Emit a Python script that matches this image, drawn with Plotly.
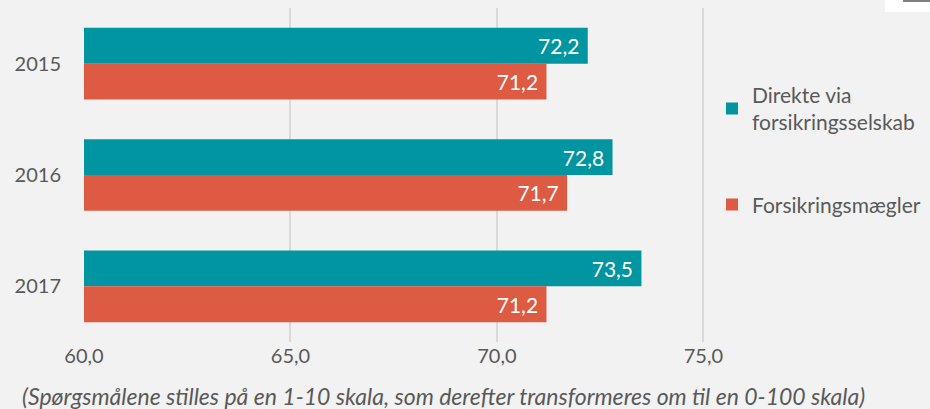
import plotly.graph_objects as go

years = ["2015", "2016", "2017"]
direkte = [72.2, 72.8, 73.5]
maegler = [71.2, 71.7, 71.2]
series_names = ["Direkte via<br>forsikringsselskab", "Forsikringsmægler"]
tick_vals = [60, 65, 70, 75]
tick_text = ["60,0", "65,0", "70,0", "75,0"]
caption = "(Spørgsmålene stilles på en 1-10 skala, som derefter transformeres om til en 0-100 skala)"

def fmt(v):
    return f"{v:.1f}".replace(".", ",") + "\u00a0"

TEAL = "#0095A0"
RED = "#DD5A43"
FONT = "Lato, 'Open Sans', sans-serif"

fig = go.Figure()
for name, vals, col, grp in [(series_names[0], direkte, TEAL, "a"), (series_names[1], maegler, RED, "b")]:
    fig.add_trace(go.Bar(
        y=years, x=vals, orientation="h", name=name,
        marker=dict(color=col, line=dict(width=0)),
        text=[fmt(v) for v in vals], textposition="inside", insidetextanchor="end",
        textfont=dict(color="white", size=21, family=FONT),
        legendgroup=grp,
    ))

fig.update_layout(
    width=930, height=409,
    margin=dict(l=84, r=206, t=8, b=67, autoexpand=False),
    paper_bgcolor="#F2F2F2", plot_bgcolor="#F2F2F2",
    barmode="group", bargap=0.357, bargroupgap=0,
    font=dict(family=FONT, color="#595959", size=20),
    xaxis=dict(range=[60, 75.5], tickvals=tick_vals, ticktext=tick_text,
               showgrid=True, gridcolor="#D9D9D9", gridwidth=2, zeroline=False,
               showline=False, ticks="", tickfont=dict(size=20, color="#595959"),
               ticklabelstandoff=0, automargin=False),
    yaxis=dict(autorange="reversed", showgrid=False, ticks="", showline=False,
               tickfont=dict(size=20, color="#595959"), ticklabelstandoff=22, automargin=False),
    legend=dict(x=1.0 - 12 / 640, xanchor="left", y=0.80, yanchor="top",
                font=dict(size=21, color="#595959"), tracegroupgap=52,
                bgcolor="rgba(0,0,0,0)"),
    showlegend=True,
    annotations=[dict(text=caption, xref="paper", yref="paper",
                      x=(443 - 84) / 640, y=-(396 - 342) / 334, xanchor="center", yanchor="middle",
                      showarrow=False, font=dict(size=23, color="#595959", family=FONT, style="italic"))],
    shapes=[
        dict(type="rect", xref="paper", yref="paper", x0=(885 - 84) / 640, x1=(935 - 84) / 640,
             y0=(342 - 12) / 334, y1=(342 + 2) / 334, fillcolor="white", line=dict(width=0), layer="above"),
        dict(type="line", xref="paper", yref="paper", x0=(903 - 84) / 640, x1=(930 - 84) / 640,
             y0=(342 - 1) / 334, y1=(342 - 1) / 334, line=dict(color="#808080", width=2), layer="above"),
    ],
)
fig.write_html("out.html", config={"displayModeBar": False},
               post_script="document.body.style.margin='0';document.body.style.overflow='hidden';")
